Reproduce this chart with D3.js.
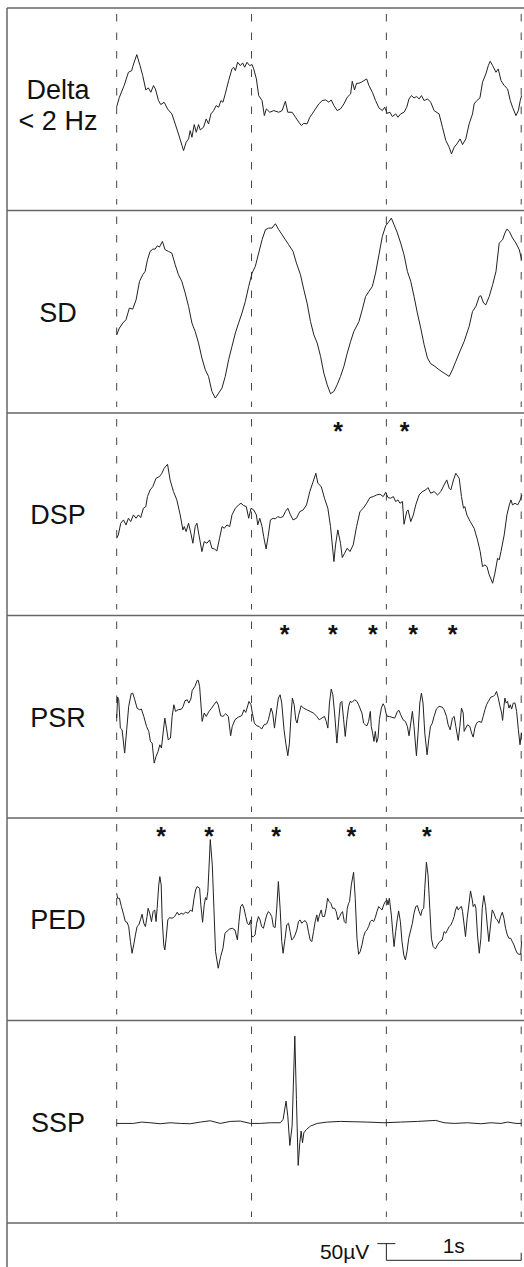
<!DOCTYPE html>
<html>
<head>
<meta charset="utf-8">
<script src="https://cdn.jsdelivr.net/npm/d3@7/dist/d3.min.js"></script>
<style>
  body { margin: 0; background: #fff; }
  svg { display: block; font-family: "Liberation Sans", Arial, sans-serif; }
</style>
</head>
<body>
<script>
// EEG patterns, 3 seconds per row. time in ms, amplitude in µV
var labels = [["Delta", "< 2 Hz"], ["SD"], ["DSP"], ["PSR"], ["PED"], ["SSP"]];
var secondMarks = [0, 1000, 2000, 3000];

var delta = [[0,8],[20,36],[55,71],[87,111],[112,116],[119,128],[149,164],[173,131],[193,101],[216,58],[235,64],[253,51],[273,71],[287,61],[310,26],[327,14],[352,21],[377,1],[409,-14],[434,-44],[458,-74],[496,-124],[515,-99],[533,-89],[545,-64],[558,-84],[575,-46],[590,-69],[607,-46],[620,-62],[644,-54],[664,-29],[681,-44],[699,-14],[719,-4],[738,11],[756,6],[773,26],[788,21],[805,46],[830,86],[855,121],[867,126],[880,116],[897,141],[917,131],[934,139],[949,126],[966,141],[986,131],[1004,134],[1016,121],[1036,91],[1053,41],[1078,26],[1095,-19],[1110,1],[1135,-9],[1165,-4],[1202,-9],[1227,-4],[1251,24],[1269,-9],[1301,-9],[1326,-24],[1351,-39],[1370,-49],[1388,-42],[1412,-44],[1432,-24],[1450,-14],[1474,1],[1499,16],[1524,26],[1549,28],[1574,21],[1591,28],[1611,11],[1635,-4],[1660,1],[1685,16],[1710,36],[1735,46],[1747,84],[1764,58],[1779,78],[1797,78],[1814,81],[1834,86],[1854,91],[1871,71],[1896,51],[1920,26],[1945,4],[1970,-4],[1987,6],[2007,-12],[2027,-9],[2044,-22],[2069,-14],[2086,-24],[2106,-14],[2131,-9],[2151,6],[2168,31],[2186,41],[2205,34],[2225,38],[2243,31],[2260,41],[2280,26],[2305,31],[2329,21],[2354,-4],[2391,-14],[2416,-54],[2441,-94],[2466,-114],[2483,-134],[2503,-114],[2523,-104],[2547,-89],[2565,-106],[2589,-89],[2614,-44],[2639,-14],[2651,16],[2671,26],[2694,34],[2713,81],[2738,106],[2756,131],[2770,144],[2788,131],[2813,111],[2830,121],[2850,86],[2874,71],[2899,61],[2919,26],[2936,6],[2961,-19],[2979,-4],[2993,26],[3003,41]];

var sd = [[0,-69],[20,-49],[45,-34],[69,-24],[94,11],[119,8],[144,36],[169,91],[193,111],[211,121],[228,156],[248,181],[268,188],[285,188],[302,198],[317,194],[339,211],[359,186],[384,181],[409,176],[434,141],[458,111],[483,91],[508,56],[533,16],[558,-34],[582,-59],[607,-94],[632,-139],[657,-174],[681,-194],[706,-239],[731,-259],[756,-244],[781,-229],[805,-194],[830,-144],[855,-104],[880,-64],[904,-34],[929,-4],[954,31],[979,76],[1004,116],[1028,136],[1053,176],[1078,216],[1103,246],[1127,251],[1152,251],[1177,264],[1202,246],[1227,231],[1251,216],[1276,201],[1308,181],[1333,146],[1363,111],[1388,66],[1412,26],[1437,-29],[1462,-69],[1487,-94],[1512,-134],[1536,-184],[1561,-219],[1586,-246],[1611,-239],[1635,-219],[1660,-194],[1685,-164],[1710,-124],[1735,-89],[1759,-59],[1797,-29],[1821,6],[1846,46],[1871,61],[1896,76],[1920,116],[1945,171],[1970,226],[1995,258],[2020,271],[2037,281],[2057,261],[2082,236],[2106,206],[2131,171],[2156,121],[2181,91],[2205,46],[2230,-4],[2255,-49],[2280,-99],[2305,-139],[2329,-156],[2354,-162],[2391,-174],[2428,-184],[2466,-194],[2490,-174],[2515,-149],[2540,-124],[2577,-89],[2614,-44],[2639,1],[2664,16],[2689,46],[2701,48],[2721,26],[2738,21],[2763,46],[2788,81],[2813,121],[2837,206],[2862,216],[2879,236],[2894,248],[2912,241],[2936,221],[2961,206],[2986,186],[3003,156]];

var dsp = [[0,-72],[12,-62],[30,-27],[50,-17],[69,-32],[87,-12],[104,-22],[124,-2],[144,-12],[161,-2],[178,-10],[198,18],[216,23],[228,53],[248,73],[268,83],[292,108],[317,113],[335,123],[352,138],[377,150],[396,103],[421,68],[446,43],[471,-2],[491,-47],[501,-37],[515,-52],[533,-27],[550,-57],[565,-87],[582,-37],[595,-27],[610,-62],[632,-112],[649,-82],[669,-87],[689,-77],[706,-102],[724,-104],[743,-110],[763,-72],[781,-37],[798,-42],[818,-32],[838,-37],[855,-2],[880,18],[904,28],[922,33],[942,26],[961,23],[979,-12],[996,18],[1016,13],[1036,-2],[1046,-32],[1061,-12],[1078,-37],[1090,-67],[1108,-104],[1123,-67],[1140,-17],[1160,-12],[1177,-14],[1194,-7],[1214,-10],[1234,-7],[1251,8],[1269,18],[1289,-2],[1308,-17],[1333,-12],[1358,8],[1383,13],[1408,28],[1432,68],[1457,98],[1477,123],[1492,93],[1517,83],[1541,48],[1566,18],[1586,-37],[1611,-142],[1623,-92],[1640,-47],[1660,-87],[1673,-130],[1690,-117],[1710,-102],[1730,-112],[1754,-92],[1779,-37],[1804,8],[1829,18],[1854,33],[1878,50],[1903,53],[1928,58],[1953,60],[1977,53],[1995,66],[2012,50],[2032,48],[2052,53],[2069,38],[2086,43],[2101,33],[2119,38],[2131,-30],[2151,8],[2161,13],[2181,-22],[2200,-2],[2218,28],[2243,58],[2267,68],[2292,73],[2309,80],[2329,63],[2354,68],[2379,58],[2404,68],[2428,88],[2448,103],[2466,78],[2478,73],[2498,103],[2515,123],[2540,108],[2557,53],[2572,18],[2582,23],[2597,-2],[2622,-22],[2651,-42],[2676,-77],[2696,-112],[2713,-157],[2731,-152],[2746,-157],[2763,-182],[2788,-207],[2805,-177],[2825,-132],[2837,-137],[2850,-112],[2874,-62],[2894,-2],[2912,28],[2924,43],[2936,28],[2954,33],[2974,28],[2993,43],[3005,58]];

var psr = [[0,-4],[7,59],[15,51],[27,-34],[40,-39],[59,-109],[74,-39],[89,31],[107,69],[119,71],[134,51],[151,26],[169,21],[183,23],[201,1],[221,-29],[238,-44],[250,-74],[263,-79],[278,-139],[292,-119],[307,-104],[320,-84],[332,-94],[344,-49],[357,-4],[369,-34],[382,-69],[399,-64],[411,1],[424,36],[436,16],[456,21],[481,23],[493,31],[506,48],[523,51],[535,41],[550,53],[560,79],[580,91],[597,109],[605,109],[615,91],[624,41],[634,-14],[649,11],[664,1],[684,16],[704,26],[721,36],[741,46],[753,36],[771,3],[788,1],[808,9],[828,1],[845,-57],[857,-29],[877,-9],[902,-1],[927,3],[944,21],[957,13],[969,29],[981,46],[996,36],[1006,11],[1021,-19],[1038,-27],[1056,-29],[1075,-37],[1093,-24],[1113,-21],[1125,-9],[1145,26],[1157,11],[1170,-34],[1187,21],[1199,56],[1212,66],[1224,41],[1241,-39],[1254,-79],[1269,-117],[1281,-79],[1294,11],[1303,56],[1316,36],[1328,-9],[1338,-19],[1348,3],[1368,33],[1385,26],[1410,21],[1435,16],[1460,11],[1484,1],[1502,-9],[1521,-4],[1541,1],[1554,-14],[1566,-34],[1578,41],[1591,83],[1603,66],[1616,11],[1633,-79],[1645,-19],[1658,41],[1670,46],[1683,-9],[1695,-59],[1707,-9],[1720,31],[1732,46],[1745,43],[1764,51],[1782,46],[1794,36],[1819,11],[1831,-19],[1844,-24],[1856,-27],[1868,-14],[1881,16],[1888,-29],[1898,-49],[1908,-74],[1918,-44],[1928,-77],[1938,-64],[1948,-9],[1963,26],[1975,39],[1987,31],[1997,11],[2007,1],[2025,1],[2042,-2],[2062,-4],[2082,16],[2094,19],[2106,6],[2124,-9],[2141,-14],[2156,-29],[2168,-57],[2181,-19],[2193,16],[2205,-29],[2223,-117],[2235,-49],[2248,41],[2260,71],[2272,41],[2285,-49],[2302,-114],[2314,-69],[2327,-29],[2339,-21],[2354,1],[2371,23],[2391,31],[2414,29],[2428,21],[2446,1],[2458,-24],[2473,-39],[2490,-4],[2503,1],[2515,-29],[2533,-71],[2545,-29],[2557,26],[2570,11],[2577,-44],[2589,-34],[2602,-24],[2619,-29],[2632,-49],[2644,-61],[2656,-34],[2669,-19],[2686,-14],[2706,-17],[2718,1],[2731,21],[2743,36],[2756,46],[2775,59],[2793,61],[2805,66],[2817,76],[2830,56],[2842,33],[2855,11],[2862,-11],[2872,31],[2879,56],[2889,41],[2899,46],[2909,26],[2919,36],[2929,23],[2941,41],[2954,41],[2966,16],[2979,-39],[2991,-84],[3003,-49]];

var ped = [[0,78],[7,63],[20,63],[35,38],[52,13],[64,-7],[77,-9],[89,-22],[102,-67],[114,-102],[126,-77],[139,-47],[151,-22],[164,-17],[176,-2],[188,15],[201,-12],[213,-22],[225,8],[233,33],[245,18],[258,-7],[270,23],[282,28],[292,-7],[300,33],[312,103],[320,128],[330,103],[337,3],[349,-77],[357,-92],[367,-57],[379,-2],[392,5],[411,3],[429,8],[449,21],[461,13],[478,18],[493,15],[510,21],[530,18],[548,28],[560,23],[572,58],[585,88],[597,98],[615,93],[624,43],[637,-9],[649,43],[659,65],[667,58],[676,83],[689,193],[694,239],[709,163],[721,33],[733,-97],[753,-147],[771,-112],[788,-87],[803,-42],[820,-35],[838,-29],[857,-27],[877,-32],[895,-62],[907,-7],[919,38],[932,45],[944,33],[957,8],[969,-12],[981,-17],[994,-2],[1001,-52],[1014,-52],[1026,-47],[1038,-12],[1051,8],[1063,-2],[1075,-22],[1088,-27],[1100,-7],[1113,13],[1125,23],[1137,18],[1150,8],[1162,-22],[1175,-25],[1187,33],[1199,113],[1212,33],[1224,-67],[1234,-102],[1249,-57],[1261,-17],[1274,-12],[1286,-37],[1298,-62],[1311,-57],[1323,-47],[1336,-32],[1348,-7],[1360,-2],[1373,-12],[1385,-7],[1398,-4],[1410,-12],[1422,-37],[1435,-62],[1447,-67],[1460,-37],[1472,-7],[1484,13],[1492,-7],[1504,13],[1517,28],[1526,8],[1541,8],[1554,33],[1564,63],[1576,53],[1588,48],[1601,33],[1616,33],[1628,23],[1640,-2],[1653,8],[1665,18],[1675,23],[1688,-7],[1700,-12],[1710,33],[1720,48],[1727,53],[1740,103],[1757,141],[1769,63],[1782,-57],[1794,-105],[1806,-97],[1819,-77],[1831,-52],[1844,-37],[1856,-32],[1868,-22],[1881,-7],[1893,-2],[1906,-7],[1918,5],[1930,23],[1943,38],[1955,33],[1968,28],[1980,43],[1992,53],[2005,58],[2012,43],[2022,63],[2037,13],[2049,-47],[2057,-82],[2069,-37],[2082,3],[2091,25],[2104,-7],[2116,-67],[2129,-107],[2141,-122],[2153,-97],[2166,-57],[2181,-32],[2193,-12],[2205,18],[2218,38],[2230,41],[2243,23],[2255,11],[2265,28],[2277,33],[2285,93],[2297,171],[2309,133],[2322,33],[2334,-57],[2347,-82],[2364,-89],[2379,-77],[2396,-67],[2414,-62],[2428,-37],[2441,-42],[2453,-32],[2466,-22],[2478,-17],[2490,-7],[2503,8],[2513,28],[2523,38],[2533,28],[2545,35],[2557,38],[2565,23],[2577,-17],[2587,-52],[2599,3],[2612,43],[2624,85],[2637,58],[2644,38],[2656,45],[2664,33],[2676,-47],[2689,-102],[2701,-57],[2711,33],[2723,71],[2736,38],[2748,-17],[2760,-67],[2773,-17],[2785,28],[2798,18],[2810,3],[2822,-2],[2835,-12],[2847,8],[2860,21],[2872,3],[2884,-27],[2897,-47],[2909,-57],[2922,-57],[2934,-67],[2946,-77],[2959,-92],[2971,-102],[2983,-105],[2996,-105],[3003,-67]];

var ssp = [[0,-5],[124,-5],[186,-1],[248,-3],[322,-6],[396,-3],[471,-5],[545,-6],[620,-1],[694,3],[768,-5],[843,1],[917,2],[991,-5],[1066,-5],[1140,-3],[1214,-3],[1234,7],[1256,62],[1269,17],[1284,-71],[1301,-13],[1321,257],[1333,67],[1346,-131],[1358,-63],[1368,-28],[1378,-63],[1388,-33],[1408,-23],[1437,-13],[1487,-5],[1561,-1],[1660,1],[1759,0],[1858,-1],[1982,-3],[2106,-1],[2230,1],[2366,4],[2428,-3],[2503,-5],[2602,-3],[2701,-6],[2775,-3],[2850,-5],[2899,-1],[2961,-5],[3003,-5]];

var traces = [delta, sd, dsp, psr, ped, ssp];
// asterisks above the marked discharges (ms)
var stars = [[], [], [1643, 2136], [1246, 1603, 1900, 2198, 2491], [329, 686, 1182, 1740, 2300], []];

var width = 524, height = 1267;
var margin = {left: 7, top: 8};
var panelH = 202.5;

var x = d3.scaleLinear().domain([0, 3000]).range([116.7, 521.2]);
var y = d3.scaleLinear().domain([-303.75, 303.75]).range([panelH, 0]);

var svg = d3.select("body").append("svg").attr("width", width).attr("height", height);

svg.append("rect").attr("width", width).attr("height", height).attr("fill", "#fff");

var line = d3.line()
    .x(function(d){ return x(d[0]); })
    .y(function(d){ return y(d[1]); });

var panels = svg.selectAll("g.panel").data(traces).enter().append("g")
    .attr("class", "panel")
    .attr("transform", function(d, i){ return "translate(0," + (margin.top + i * panelH) + ")"; });

// dashed second markers
panels.each(function(){
  d3.select(this).selectAll("line.sec").data(secondMarks).enter().append("line")
    .attr("class", "sec")
    .attr("x1", function(d){ return x(d); }).attr("x2", function(d){ return x(d); })
    .attr("y1", 6).attr("y2", panelH - 6)
    .attr("stroke", "#444").attr("stroke-width", 1).attr("stroke-dasharray", "7.5,11");
});

panels.append("path")
    .attr("d", function(d){ return line(d); })
    .attr("fill", "none").attr("stroke", "#222").attr("stroke-width", 1)
    .attr("stroke-linejoin", "round");

// labels on the left, one text per line
panels.each(function(d, i){
  var lab = labels[i];
  var y0 = panelH / 2 + 10 - (lab.length - 1) * 20.25;
  d3.select(this).selectAll("text.lab").data(lab).enter().append("text")
      .attr("class", "lab")
      .attr("x", 58).attr("y", function(s, k){ return y0 + k * 30.5; })
      .attr("text-anchor", "middle")
      .attr("font-size", 27).attr("fill", "#111")
      .text(function(s){ return s; });
});

// asterisks
panels.each(function(d, i){
  d3.select(this).selectAll("text.star").data(stars[i]).enter().append("text")
    .attr("class", "star")
    .attr("x", function(s){ return x(s); }).attr("y", 27)
    .attr("text-anchor", "middle").attr("font-size", 25).attr("font-weight", "bold")
    .attr("fill", "#111").text("*");
});

// panel borders
var borders = d3.range(traces.length + 1).map(function(i){ return margin.top + i * panelH; });
svg.selectAll("line.hb").data(borders).enter().append("line")
    .attr("x1", margin.left).attr("x2", width)
    .attr("y1", function(d){ return d; }).attr("y2", function(d){ return d; })
    .attr("stroke", "#666").attr("stroke-width", 1.5);
svg.append("line").attr("x1", margin.left).attr("x2", margin.left)
    .attr("y1", margin.top).attr("y2", height)
    .attr("stroke", "#666").attr("stroke-width", 1.5);

// scale bar: 50 µV and 1 s
var sb = svg.append("g").attr("transform", "translate(0," + (margin.top + traces.length * panelH) + ")");
var base = 37.3;
var barH = y(0) - y(50);
var sx0 = x(2000), sx1 = x(3000);
sb.append("path")
    .attr("d", "M" + (sx0 - 9) + "," + (base - barH) + "H" + (sx0 + 9) +
               "M" + sx0 + "," + (base - barH) + "V" + base + "H" + sx1 + "V" + (base - 7.5))
    .attr("fill", "none").attr("stroke", "#222").attr("stroke-width", 1);
sb.append("text").attr("x", sx0 - 17).attr("y", base - 1).attr("text-anchor", "end")
    .attr("font-size", 21).attr("fill", "#111").text("50µV");
sb.append("text").attr("x", (sx0 + sx1) / 2).attr("y", base - 7).attr("text-anchor", "middle")
    .attr("font-size", 21).attr("fill", "#111").text("1s");
</script>
</body>
</html>
